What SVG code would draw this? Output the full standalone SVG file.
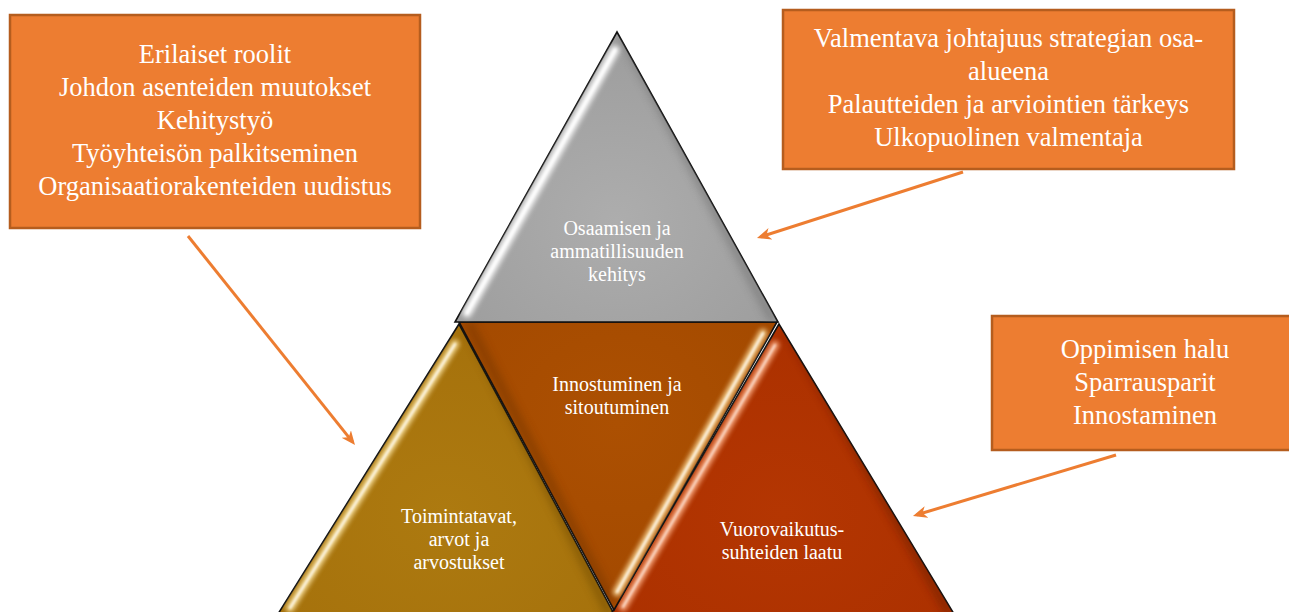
<svg xmlns="http://www.w3.org/2000/svg" width="1289" height="612" viewBox="0 0 1289 612">
<defs>
<style>
.box{fill:#ED7D31;stroke:#B55D1E;stroke-width:2.5}
.bt{font-family:"Liberation Serif","Times New Roman",serif;font-size:26.5px;fill:#fff;text-anchor:middle}
.tt{font-family:"Liberation Serif","Times New Roman",serif;font-size:20px;fill:#fff;text-anchor:middle}
.tri{stroke:#111;stroke-width:1.6;stroke-linejoin:miter}
.hl{fill:none;stroke-linecap:round;filter:url(#blur)}
.hw{fill:none;stroke-linecap:round;filter:url(#blur3)}
.sh{fill:none;stroke-linecap:round;filter:url(#blur2)}
.arrow{fill:none;stroke:#ED7D31;stroke-width:3;marker-end:url(#ah)}
</style>
<filter id="blur" x="-20%" y="-20%" width="140%" height="140%"><feGaussianBlur stdDeviation="1.2"/></filter>
<filter id="blur3" x="-20%" y="-20%" width="140%" height="140%"><feGaussianBlur stdDeviation="2.5"/></filter>
<filter id="blur2" x="-20%" y="-20%" width="140%" height="140%"><feGaussianBlur stdDeviation="4"/></filter>
<marker id="ah" markerUnits="userSpaceOnUse" markerWidth="15" markerHeight="13" refX="10" refY="6" orient="auto">
<path d="M0,0 L14,6 L0,12 L4,6 Z" fill="#ED7D31"/>
</marker>
<radialGradient id="gGray" cx="50%" cy="65%" r="60%"><stop offset="0" stop-color="#ADADAD"/><stop offset="1" stop-color="#9E9E9E"/></radialGradient>
<radialGradient id="gGold" cx="50%" cy="65%" r="60%"><stop offset="0" stop-color="#AD7A10"/><stop offset="1" stop-color="#A6720C"/></radialGradient>
<radialGradient id="gBrown" cx="50%" cy="35%" r="60%"><stop offset="0" stop-color="#AC5002"/><stop offset="1" stop-color="#A44A00"/></radialGradient>
<radialGradient id="gRed" cx="50%" cy="65%" r="60%"><stop offset="0" stop-color="#B43602"/><stop offset="1" stop-color="#AC3100"/></radialGradient>
<clipPath id="cGray"><polygon points="617,32 455,322 778,322"/></clipPath>
<clipPath id="cGold"><polygon points="459,324 278,614 614,614"/></clipPath>
<clipPath id="cBrown"><polygon points="459,322 777,322 614,610"/></clipPath>
<clipPath id="cRed"><polygon points="779,324 611,614 954,614"/></clipPath>
</defs>
<rect width="1289" height="612" fill="#fff"/>

<g id="node-toimintatavat">
<polygon class="tri" points="459,324 278,614 614,614" fill="url(#gGold)"/>
<g clip-path="url(#cGold)">
<line class="sh" x1="470" y1="330" x2="608" y2="610" stroke="#6E4A05" stroke-width="8" opacity="0.6"/>
<line class="hw" x1="455" y1="344" x2="290" y2="608" stroke="#FFE9A8" stroke-width="8" opacity="0.9"/>
<line class="hl" x1="455" y1="344" x2="290" y2="608" stroke="#fff" stroke-width="2" opacity="0.9"/>
</g>
<text class="tt" x="459" y="523">Toimintatavat,</text>
<text class="tt" x="459" y="546">arvot ja</text>
<text class="tt" x="459" y="569">arvostukset</text>
</g>

<g id="node-vuorovaikutus">
<polygon class="tri" points="779,324 611,614 954,614" fill="url(#gRed)"/>
<g clip-path="url(#cRed)">
<line class="sh" x1="790" y1="332" x2="948" y2="610" stroke="#6A1E00" stroke-width="8" opacity="0.6"/>
<line class="hw" x1="775" y1="345" x2="623" y2="607" stroke="#FFB48A" stroke-width="8" opacity="0.9"/>
<line class="hl" x1="775" y1="345" x2="623" y2="607" stroke="#fff" stroke-width="1.6" opacity="0.8"/>
</g>
<text class="tt" x="782" y="536">Vuorovaikutus-</text>
<text class="tt" x="782" y="559">suhteiden laatu</text>
</g>

<g id="node-innostuminen">
<polygon class="tri" points="459,322 777,322 614,610" fill="url(#gBrown)"/>
<g clip-path="url(#cBrown)">
<line class="sh" x1="470" y1="326" x2="610" y2="600" stroke="#6B3000" stroke-width="8" opacity="0.5"/>
<line class="hl" x1="470" y1="328" x2="762" y2="328" stroke="#D98A3A" stroke-width="4" opacity="0.7"/>
<line class="hw" x1="763" y1="333" x2="617" y2="592" stroke="#FFE0A0" stroke-width="8" opacity="0.9"/>
<line class="hl" x1="763" y1="333" x2="617" y2="592" stroke="#fff" stroke-width="2" opacity="0.9"/>
</g>
<text class="tt" x="617" y="391">Innostuminen ja</text>
<text class="tt" x="617" y="414">sitoutuminen</text>
</g>

<g id="node-osaaminen">
<polygon class="tri" points="617,32 455,322 778,322" fill="url(#gGray)"/>
<g clip-path="url(#cGray)">
<line class="sh" x1="625" y1="40" x2="772" y2="318" stroke="#6E6E6E" stroke-width="8" opacity="0.6"/>
<line class="hl" x1="470" y1="316" x2="765" y2="316" stroke="#D8D8D8" stroke-width="5" opacity="0.8"/>
<line class="hw" x1="615" y1="50" x2="467" y2="313" stroke="#F4F4F4" stroke-width="9"/>
<line class="hl" x1="615" y1="50" x2="467" y2="313" stroke="#fff" stroke-width="2.5"/>
</g>
<text class="tt" x="617" y="235">Osaamisen ja</text>
<text class="tt" x="617" y="258">ammatillisuuden</text>
<text class="tt" x="617" y="281">kehitys</text>
</g>

<g id="box-left">
<rect class="box" x="10" y="15" width="410" height="213"/>
<text class="bt" x="215" y="63">Erilaiset roolit</text>
<text class="bt" x="215" y="96">Johdon asenteiden muutokset</text>
<text class="bt" x="215" y="129">Kehitystyö</text>
<text class="bt" x="215" y="162">Työyhteisön palkitseminen</text>
<text class="bt" x="215" y="195">Organisaatiorakenteiden uudistus</text>
</g>

<g id="box-top-right">
<rect class="box" x="783" y="10" width="451" height="159"/>
<text class="bt" x="1008.5" y="47">Valmentava johtajuus strategian osa-</text>
<text class="bt" x="1008.5" y="80">alueena</text>
<text class="bt" x="1008.5" y="113">Palautteiden ja arviointien tärkeys</text>
<text class="bt" x="1008.5" y="146">Ulkopuolinen valmentaja</text>
</g>

<g id="box-bottom-right">
<rect class="box" x="992" y="316" width="310" height="134"/>
<text class="bt" x="1145" y="358">Oppimisen halu</text>
<text class="bt" x="1145" y="391">Sparrausparit</text>
<text class="bt" x="1145" y="424">Innostaminen</text>
</g>

<g id="connectors">
<line class="arrow" x1="188" y1="236" x2="352.5" y2="441.9"/>
<line class="arrow" x1="963" y1="172" x2="760.8" y2="236.8"/>
<line class="arrow" x1="1116" y1="455" x2="916.8" y2="514.8"/>
</g>
</svg>
